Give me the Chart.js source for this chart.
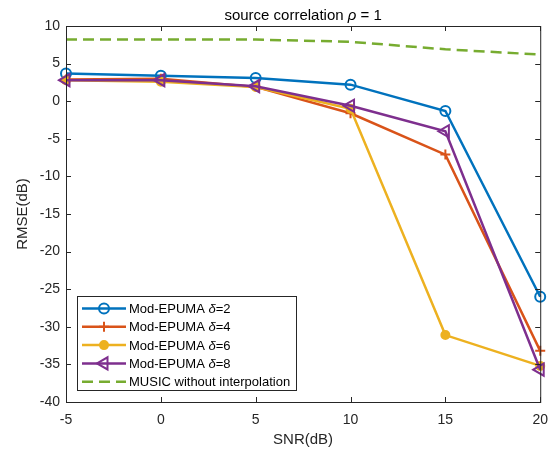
<!DOCTYPE html>
<html>
<head>
<meta charset="utf-8">
<script src="https://cdn.jsdelivr.net/npm/chart.js@4/dist/chart.umd.min.js"></script>
<style>
  html, body { margin: 0; padding: 0; background: #fff; }
  #wrap { width: 558px; height: 450px; position: relative; }
</style>
</head>
<body>
<div id="wrap"><canvas id="c"></canvas></div>
<script>
// SNR (dB) en el eje x
const snr = [-5, 0, 5, 10, 15, 20]

// RMSE (dB) por curva
const rmseDelta2 = [3.7, 3.4, 3.1, 2.2, -1.3, -26.0]
const rmseDelta4 = [2.9, 3.0, 1.9, -1.6, -7.1, -33.2]
const rmseDelta6 = [2.8, 2.6, 1.9, -1.0, -31.1, -35.2]
const rmseDelta8 = [2.8, 2.8, 2.0, -0.6, -4.0, -35.7]
const rmseMusic = [8.2, 8.2, 8.2, 7.9, 6.9, 6.2]

const legendLabels = [
  ['Mod-EPUMA ', 'δ', '=2'],
  ['Mod-EPUMA ', 'δ', '=4'],
  ['Mod-EPUMA ', 'δ', '=6'],
  ['Mod-EPUMA ', 'δ', '=8'],
  ['MUSIC without interpolation', '', '']
]

const xTicks = [-5, 0, 5, 10, 15, 20]
const yTicks = [-40, -35, -30, -25, -20, -15, -10, -5, 0, 5, 10]

const FONT = '"Liberation Sans", Arial, Helvetica, sans-serif'
const AXIS = '#262626'

const toPts = (ys) => ys.map((y, i) => ({ x: snr[i], y }))

const series = [
  { data: rmseDelta2, color: '#0072BD', style: 'circle', radius: 5, fill: false, rot: 0, order: 4 },
  { data: rmseDelta4, color: '#D95319', style: 'cross', radius: 5, fill: false, rot: 0, order: 3 },
  { data: rmseDelta6, color: '#EDB120', style: 'circle', radius: 4, fill: true, rot: 0, order: 2 },
  { data: rmseDelta8, color: '#7E2F8E', style: 'triangle', radius: 7, fill: false, rot: -90, order: 1 },
  { data: rmseMusic, color: '#77AC30', style: false, radius: 0, fill: false, rot: 0, order: 0, dash: [11, 6] }
]

const datasets = series.map((s) => ({
  data: toPts(s.data),
  borderColor: s.color,
  backgroundColor: s.color,
  borderWidth: 2.5,
  borderDash: s.dash || [],
  pointStyle: s.style,
  pointRadius: s.radius,
  pointRotation: s.rot,
  pointBorderWidth: 2,
  pointBorderColor: s.color,
  pointBackgroundColor: s.fill ? s.color : 'rgba(0,0,0,0)',
  tension: 0,
  clip: false,
  order: s.order
}))

// texto con partes en cursiva
function drawRuns(ctx, runs, x, y, size, align) {
  const fonts = [`${size}px ${FONT}`, `italic ${size}px ${FONT}`, `${size}px ${FONT}`]
  let total = 0
  runs.forEach((t, i) => { ctx.font = fonts[i]; total += ctx.measureText(t).width })
  let cx = align === 'center' ? x - total / 2 : x
  ctx.textAlign = 'left'
  runs.forEach((t, i) => {
    ctx.font = fonts[i]
    ctx.fillText(t, cx, y)
    cx += ctx.measureText(t).width
  })
}

const decor = {
  id: 'decor',
  afterDraw(chart) {
    const { ctx, chartArea: a, scales } = chart
    ctx.save()
    ctx.strokeStyle = AXIS
    ctx.lineWidth = 1
    ctx.strokeRect(a.left + 0.5, a.top + 0.5, a.right - a.left, a.bottom - a.top)
    ctx.beginPath()
    xTicks.forEach((v) => {
      const px = Math.round(scales.x.getPixelForValue(v)) + 0.5
      ctx.moveTo(px, a.bottom); ctx.lineTo(px, a.bottom - 5)
      ctx.moveTo(px, a.top); ctx.lineTo(px, a.top + 5)
    })
    yTicks.forEach((v) => {
      const py = Math.round(scales.y.getPixelForValue(v)) + 0.5
      ctx.moveTo(a.left, py); ctx.lineTo(a.left + 5, py)
      ctx.moveTo(a.right, py); ctx.lineTo(a.right - 5, py)
    })
    ctx.stroke()

    // titulos
    ctx.fillStyle = '#000'
    ctx.textBaseline = 'alphabetic'
    drawRuns(ctx, ['source correlation ', 'ρ', ' = 1'], (a.left + a.right) / 2, 20, 15, 'center')
    ctx.fillStyle = AXIS
    ctx.font = `15px ${FONT}`
    ctx.textAlign = 'center'
    ctx.textBaseline = 'middle'
    ctx.fillText('SNR(dB)', (a.left + a.right) / 2, 440)
    ctx.save()
    ctx.translate(23, (a.top + a.bottom) / 2)
    ctx.rotate(-Math.PI / 2)
    ctx.fillText('RMSE(dB)', 0, 0)
    ctx.restore()

    // leyenda
    const bx = 77.5, by = 296.5, bw = 219, bh = 94
    ctx.fillStyle = '#fff'
    ctx.fillRect(bx, by, bw, bh)
    ctx.strokeStyle = AXIS
    ctx.strokeRect(bx, by, bw, bh)
    series.forEach((s, i) => {
      const ry = 308.5 + i * 18.3
      ctx.strokeStyle = s.color
      ctx.lineWidth = 2.5
      ctx.setLineDash(s.dash || [])
      ctx.beginPath(); ctx.moveTo(82, ry); ctx.lineTo(126, ry); ctx.stroke()
      ctx.setLineDash([])
      if (s.style) {
        ctx.fillStyle = s.fill ? s.color : 'rgba(0,0,0,0)'
        ctx.lineWidth = 2
        Chart.helpers.drawPoint(ctx, {
          pointStyle: s.style, radius: s.radius, rotation: s.rot, borderWidth: 2
        }, 104, ry)
      }
      ctx.fillStyle = '#000'
      ctx.textBaseline = 'middle'
      drawRuns(ctx, legendLabels[i], 129, ry + 1, 13, 'left')
    })
    ctx.restore()
  }
}

new Chart(document.getElementById('c'), {
  type: 'line',
  data: { datasets },
  plugins: [decor],
  options: {
    responsive: true,
    maintainAspectRatio: false,
    animation: false,
    layout: { padding: { top: 26, right: 16, left: 0, bottom: 0 } },
    plugins: { legend: { display: false }, tooltip: { enabled: false } },
    scales: {
      x: {
        type: 'linear', min: -5, max: 20,
        afterBuildTicks: (s) => { s.ticks = xTicks.map((v) => ({ value: v })) },
        afterFit: (s) => { s.height = 48 },
        grid: { display: false, drawTicks: false },
        border: { display: false },
        ticks: { font: { family: FONT, size: 14 }, color: AXIS, padding: 10 }
      },
      y: {
        type: 'linear', min: -40, max: 10,
        afterBuildTicks: (s) => { s.ticks = yTicks.map((v) => ({ value: v })) },
        afterFit: (s) => { s.width = 66 },
        grid: { display: false, drawTicks: false },
        border: { display: false },
        ticks: { font: { family: FONT, size: 14 }, color: AXIS, padding: 6 }
      }
    }
  }
})
</script>
</body>
</html>
